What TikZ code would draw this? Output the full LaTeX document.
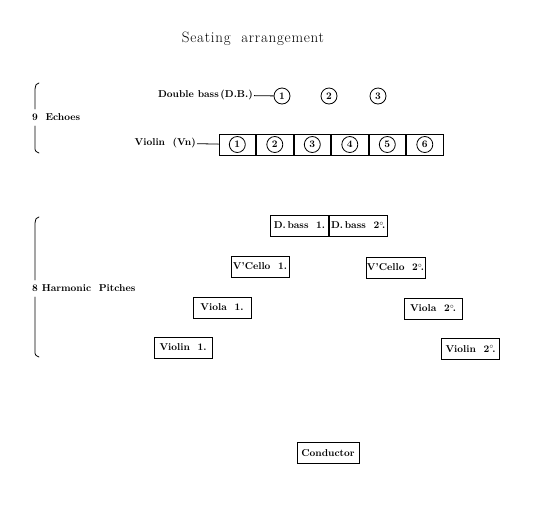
\documentclass[tikz,border=0pt]{standalone}
\usepackage{fontspec}
\usepackage{tikz}
\usetikzlibrary{positioning}
\newfontfamily\titlefont[LetterSpace=5]{Latin Modern Roman}

\begin{document}
\begin{tikzpicture}[
  x=1pt, y=-1pt,
  font=\fontsize{10}{12}\selectfont\bfseries,
  seat/.style={draw, thick, minimum width=58pt, minimum height=21pt, inner sep=1pt},
  cell/.style={draw, thick, minimum width=36.7pt, minimum height=21pt, inner sep=0pt},
  num/.style={draw, thick, circle, minimum size=16pt, inner sep=0pt},
  lab/.style={inner sep=1pt},
  brace/.style={thick, line cap=round}
]
\useasboundingbox (0,0) rectangle (540,515);

\node[font=\titlefont\fontsize{15}{17}\selectfont] (title) at (253,39) {Seating~~arrangement};

% echoes
\draw[brace] (39,83) .. controls (36,84) .. (35,89) -- (35,109);
\draw[brace] (35,126) -- (35,147) .. controls (35,151) .. (39,153);
\node[lab, anchor=west] (echo) at (31,117) {9~~Echoes};

\node[num] (db1) at (282,96) {1};
\node[num] (db2) at (329,96) {2};
\node[num] (db3) at (378,96) {3};
\node[lab, anchor=east] (db) at (254,95) {Double bass\,(D.B.)};
\draw[thick] (db) -- (db1);

\node[cell] (vn1) at (237.3,144.5) {};
\foreach \i [remember=\i as \j (initially 1)] in {2,...,6}
  \node[cell, right=0pt of vn\j] (vn\i) {};
\foreach \i in {1,...,6}
  \node[num] (vc\i) at (vn\i) {\i};
\node[lab, anchor=east] (vn) at (197,143) {Violin~~(Vn)};
\draw[thick] (vn) -- (vn1);

% harmonic pitches
\draw[brace] (39,217) .. controls (36,218) .. (35,223) -- (35,280);
\draw[brace] (35,297) -- (35,351) .. controls (35,355) .. (39,357);
\node[lab, anchor=west] (harm) at (31,288) {8 Harmonic~~Pitches};

\node[seat] (dbA) at (299.5,225.5) {D.\,bass~~1.};
\node[seat, right=0pt of dbA] (dbB) {D.\,bass~~2$^{\circ}\!$.};
\node[seat] (vcA) at (260,266.5) {V'Cello~~1.};
\node[seat] (vcB) at (395.5,267.5) {V'Cello~~2$^{\circ}\!$.};
\node[seat] (vaA) at (222,307.5) {Viola~~1.};
\node[seat] (vaB) at (433,308.5) {Viola~~2$^{\circ}\!$.};
\node[seat] (viA) at (183,347.5) {Violin~~1.};
\node[seat] (viB) at (470.5,349) {Violin~~2$^{\circ}\!$.};

\node[seat, minimum width=62pt] (cond) at (328,453) {Conductor};
\end{tikzpicture}
\end{document}
